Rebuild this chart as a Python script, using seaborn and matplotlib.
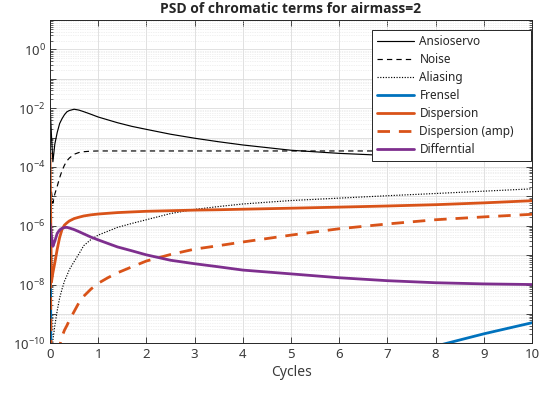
import numpy as np
import pandas as pd
import matplotlib
matplotlib.use("Agg")
import matplotlib.pyplot as plt
import matplotlib.ticker as mticker
import seaborn as sns

# ---- data ----
cycles = [0, 0.03, 0.06, 0.1, 0.15, 0.2, 0.25, 0.3, 0.35, 0.4, 0.5, 0.6, 0.7, 0.85, 1,
          1.2, 1.4, 1.7, 2, 2.5, 3, 3.5, 4, 5, 6, 7, 8, 9, 10]
ansioservo = [1.5e-2, 1.2e-3, 1.5e-4, 6e-4, 1.5e-3, 3e-3, 4.4e-3, 6e-3, 7.5e-3, 8.3e-3, 9.2e-3, 8.6e-3,
              7.6e-3, 6.2e-3, 5e-3, 4e-3, 3.2e-3, 2.4e-3, 1.9e-3, 1.3e-3, 9.5e-4, 7.2e-4, 5.6e-4,
              3.7e-4, 2.9e-4, 2.45e-4, 2.15e-4, 2e-4, 1.9e-4]
noise = [3e-5, 1.5e-5, 6e-6, 1.2e-5, 2.2e-5, 4.3e-5, 7.5e-5, 1.15e-4, 1.6e-4, 2e-4, 2.7e-4, 3.1e-4,
         3.3e-4, 3.45e-4, 3.5e-4, 3.5e-4, 3.5e-4, 3.5e-4, 3.5e-4, 3.5e-4, 3.5e-4, 3.5e-4, 3.5e-4,
         3.5e-4, 3.5e-4, 3.5e-4, 3.5e-4, 3.5e-4, 3.5e-4]
aliasing = [1e-12, 1e-12, 1.3e-10, 4e-10, 1.3e-9, 3.5e-9, 7e-9, 1.3e-8, 2e-8, 3.2e-8, 6e-8, 1.1e-7,
            2.1e-7, 3.4e-7, 4.8e-7, 6.5e-7, 8.8e-7, 1.2e-6, 1.6e-6, 2.6e-6, 3.6e-6, 4.5e-6, 5.5e-6,
            7.2e-6, 8.7e-6, 1.05e-5, 1.25e-5, 1.5e-5, 1.8e-5]
frensel = [7e-6, 1e-13, 1e-13, 1e-13, 1e-13, 1e-13, 1e-13, 1e-13, 1e-13, 1e-13, 1e-13, 1e-13,
           1e-13, 1e-13, 1e-13, 1e-13, 1e-13, 1e-13, 1e-13, 1e-13, 1e-13, 1e-13, 1e-13,
           1e-13, 1e-13, 1e-13, 8e-11, 2.1e-10, 5e-10]
dispersion = [3e-4, 1.2e-8, 2.5e-8, 5.5e-8, 1.6e-7, 4e-7, 7.5e-7, 1.05e-6, 1.25e-6, 1.45e-6, 1.75e-6,
              1.95e-6, 2.15e-6, 2.35e-6, 2.5e-6, 2.65e-6, 2.8e-6, 2.95e-6, 3.1e-6, 3.25e-6, 3.4e-6,
              3.5e-6, 3.65e-6, 3.95e-6, 4.3e-6, 4.7e-6, 5.2e-6, 6e-6, 7.1e-6]
dispersion_amp = [3e-6, 1e-12, 1e-12, 1e-12, 5e-12, 8e-11, 1.7e-10, 2.8e-10, 4e-10, 6e-10, 1.2e-9,
                  2.4e-9, 4e-9, 7e-9, 1.1e-8, 1.7e-8, 2.5e-8, 4e-8, 6.3e-8, 1.05e-7, 1.6e-7, 2.1e-7,
                  2.8e-7, 4.8e-7, 7.9e-7, 1.15e-6, 1.6e-6, 2e-6, 2.45e-6]
differential = [1.2e-6, 4.5e-7, 2e-7, 3e-7, 5.5e-7, 7.2e-7, 8.2e-7, 8.7e-7, 8.8e-7, 8.4e-7, 7.4e-7,
                6.3e-7, 5.3e-7, 4.1e-7, 3.3e-7, 2.5e-7, 1.9e-7, 1.4e-7, 1.02e-7, 6.7e-8, 5.1e-8,
                4e-8, 3.1e-8, 2.3e-8, 1.7e-8, 1.35e-8, 1.15e-8, 1.05e-8, 1e-8]

labels = ["Ansioservo", "Noise", "Aliasing", "Frensel", "Dispersion", "Dispersion (amp)", "Differntial"]
series = [ansioservo, noise, aliasing, frensel, dispersion, dispersion_amp, differential]

# ---- style ----
sns.set_style("ticks")
plt.rcParams['font.family'] = ['Noto Sans', 'DejaVu Sans']
plt.rcParams['mathtext.fontset'] = 'custom'
plt.rcParams['mathtext.rm'] = 'Noto Sans'
plt.rcParams['mathtext.it'] = 'Noto Sans'

blue = "#0072BD"
orange = "#D95319"
purple = "#7E2F8E"
styles = [
    dict(color="black", lw=0.85, dashes=None),
    dict(color="black", lw=0.85, dashes=(4.5, 3.5)),
    dict(color="black", lw=0.85, dashes=(1, 1.3)),
    dict(color=blue, lw=2.0, dashes=None),
    dict(color=orange, lw=2.0, dashes=None),
    dict(color=orange, lw=2.0, dashes=(4.5, 3.2)),
    dict(color=purple, lw=2.0, dashes=None),
]

fig = plt.figure(figsize=(5.41, 3.96), dpi=100)
ax = fig.add_axes([50 / 541, 1 - 343.3 / 396, 482 / 541, (343.3 - 20) / 396])

for lab, vals, st in zip(labels, series, styles):
    df = pd.DataFrame({"Cycles": cycles, "PSD": vals})
    sns.lineplot(data=df, x="Cycles", y="PSD", ax=ax, color=st["color"], linewidth=st["lw"],
                 label=lab, estimator=None, sort=False)
for ln, st in zip(ax.get_lines(), styles):
    if st["dashes"] is not None:
        ln.set_dashes(st["dashes"])
        ln.set_dash_capstyle("butt")

ax.set_yscale("log")
ax.set_ylim(1e-10, 1e1)
ax.set_xlim(0, 10)
ax.set_xticks(range(0, 11))

ax.yaxis.set_major_locator(mticker.FixedLocator([10.0 ** k for k in range(-10, 2)]))
def fmt(v, pos):
    k = int(round(np.log10(v)))
    return r"$\mathregular{10^{%d}}$" % k if k % 2 == 0 else ""
ax.yaxis.set_major_formatter(mticker.FuncFormatter(fmt))
ax.yaxis.set_minor_locator(mticker.LogLocator(base=10, subs=np.arange(2, 10), numticks=100))
ax.yaxis.set_minor_formatter(mticker.NullFormatter())

ax.grid(True, which="major", color="#dcdcdc", linewidth=0.6)
ax.grid(True, which="minor", axis="y", color="#e2e2e2", linewidth=0.5, linestyle=(0, (1, 1.5)))
ax.set_axisbelow(True)

tick_color = "#262626"
ax.tick_params(which="both", direction="in", top=True, right=True, colors=tick_color,
               labelcolor="#3a3a3a", labelsize=9.5)
ax.tick_params(which="major", length=4, width=0.6)
ax.tick_params(which="minor", length=2, width=0.5)
ax.tick_params(axis="y", pad=3)
for sp in ax.spines.values():
    sp.set_color(tick_color)
    sp.set_linewidth(0.7)

ax.set_xlabel("Cycles", fontsize=10, color="#3a3a3a", labelpad=3)
ax.set_ylabel("")
ax.set_title("PSD of chromatic terms for airmass=2", fontsize=10, fontweight="bold",
             family=["Open Sans", "DejaVu Sans"], pad=5)

x0 = (372 - 50) / 482
w = (531 - 372) / 482
top = (343.3 - 30) / 323.3
h = (157 - 30) / 323.3
leg = ax.legend(loc="upper right", bbox_to_anchor=(x0, top - h, w, h), mode="expand", borderaxespad=0,
                fontsize=8.5, frameon=True, fancybox=False, framealpha=1, edgecolor=tick_color,
                handlelength=3.1, handletextpad=0.5, labelspacing=0.42, borderpad=0.42)
leg.get_frame().set_linewidth(0.7)
for t in leg.get_texts():
    t.set_color("#262626")

fig.savefig("out.png", dpi=100)
